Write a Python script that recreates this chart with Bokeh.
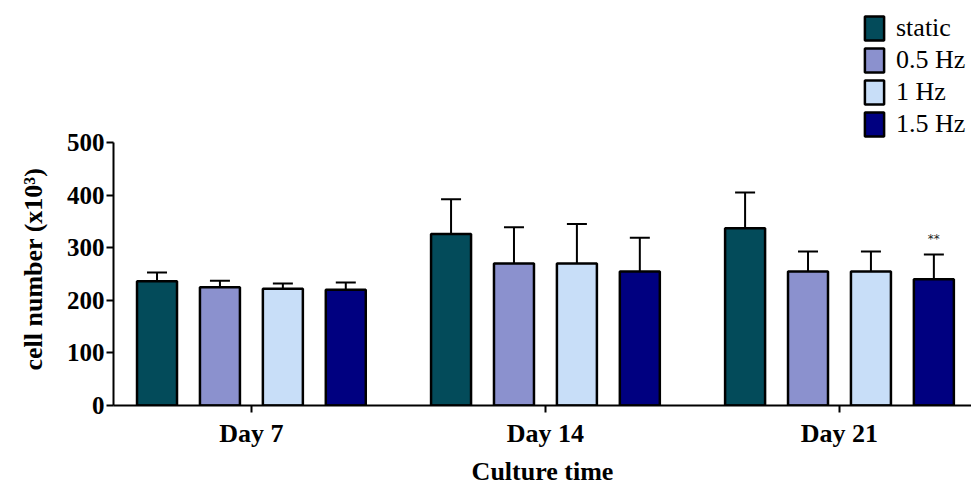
from bokeh.plotting import figure
from bokeh.models import ColumnDataSource, Range1d, FixedTicker, Whisker, TeeHead, Legend, LegendItem, Title
from bokeh.core.properties import value
from bokeh.embed import file_html
from bokeh.resources import INLINE

# ---- data ----
days = ["Day 7", "Day 14", "Day 21"]
series = ["static", "0.5 Hz", "1 Hz", "1.5 Hz"]
colors = ["#034b5a", "#8b91ce", "#c8def8", "#000080"]
static_mean = [236, 326, 337]
static_sd = [17, 66, 68]
hz05_mean = [225, 270, 255]
hz05_sd = [12, 69, 38]
hz1_mean = [222, 270, 255]
hz1_sd = [10, 75, 38]
hz15_mean = [220, 255, 240]
hz15_sd = [14, 64, 47]
hz15_sig = ["", "", "**"]
y_ticks = [0, 100, 200, 300, 400, 500]

means = [static_mean, hz05_mean, hz1_mean, hz15_mean]
sds = [static_sd, hz05_sd, hz1_sd, hz15_sd]
sigs = [None, None, None, hz15_sig]

SERIF = "Liberation Serif"
Y_MAX = 500          # axis extent
Y_VIEW = 770         # extra room above the axis for the legend

p = figure(width=971, height=488, output_backend="svg", toolbar_location=None,
           x_range=Range1d(-0.469, 2.449), y_range=Range1d(0, Y_VIEW),
           min_border_left=113, min_border_right=0, min_border_top=0, min_border_bottom=83)
p.outline_line_color = None
p.xgrid.visible = False
p.ygrid.visible = False
p.background_fill_color = "white"
p.border_fill_color = "white"

offsets = [-0.321, -0.107, 0.107, 0.321]
bar_w = 0.136
items = []
for s, col, m, sd, off, sg in zip(series, colors, means, sds, offsets, sigs):
    xs = [i + off for i in range(len(days))]
    src = ColumnDataSource(dict(x=xs, top=m, upper=[a + b for a, b in zip(m, sd)]))
    w = Whisker(source=src, base="x", lower="top", upper="upper", line_width=2,
                line_color="black",
                upper_head=TeeHead(size=20, line_width=2, line_color="black"),
                lower_head=None, level="underlay")
    p.add_layout(w)
    r = p.vbar(x="x", top="top", width=bar_w, source=src, fill_color=col,
               line_color="black", line_width=2.5)
    items.append(LegendItem(label=s, renderers=[r]))
    if sg is not None:
        ssrc = ColumnDataSource(dict(x=xs, y=src.data["upper"], t=sg))
        p.text(x="x", y="y", text="t", source=ssrc, y_offset=-9,
               text_align="center", text_baseline="bottom",
               text_font=value("DejaVu Sans"), text_font_size="12px", text_color="#222222")

legend = Legend(items=items, location=(749, 266), padding=0, margin=0, spacing=2,
                glyph_width=24, glyph_height=30, label_height=30, label_standoff=10,
                label_text_font=SERIF, label_text_font_size="26px",
                label_text_color="black", label_text_baseline="middle",
                border_line_alpha=0, background_fill_alpha=0)
p.add_layout(legend, "center")

# axes
p.xaxis.ticker = FixedTicker(ticks=list(range(len(days))))
p.xaxis.major_label_overrides = {i: d for i, d in enumerate(days)}
p.xaxis.minor_tick_line_color = None
p.xaxis.major_tick_in = 0
p.xaxis.major_tick_out = 7
p.xaxis.axis_line_width = 2
p.xaxis.major_tick_line_width = 2
p.xaxis.major_label_text_font = SERIF
p.xaxis.major_label_text_font_style = "bold"
p.xaxis.major_label_text_font_size = "26px"
p.xaxis.major_label_text_color = "black"
p.xaxis.major_label_standoff = 6
p.xaxis.axis_label = "Culture time"
p.xaxis.axis_label_text_font = SERIF
p.xaxis.axis_label_text_font_style = "bold"
p.xaxis.axis_label_text_font_size = "26px"
p.xaxis.axis_label_text_color = "black"
p.xaxis.axis_label_standoff = 6

p.yaxis.ticker = FixedTicker(ticks=y_ticks)
p.yaxis.bounds = (0, Y_MAX)
p.yaxis.minor_tick_line_color = None
p.yaxis.major_tick_in = 0
p.yaxis.major_tick_out = 7
p.yaxis.axis_line_width = 2
p.yaxis.major_tick_line_width = 2
p.yaxis.major_label_text_font = SERIF
p.yaxis.major_label_text_font_style = "bold"
p.yaxis.major_label_text_font_size = "25px"
p.yaxis.major_label_text_color = "black"
p.yaxis.major_label_standoff = 2

ytitle = Title(text="cell number (x10\u00b3)", align="left", offset=35, standoff=29,
               vertical_align="middle",
               text_font=SERIF, text_font_style="bold", text_font_size="26px",
               text_color="black")
p.add_layout(ytitle, "left")

open("out.html", "w").write(file_html(p, INLINE))
